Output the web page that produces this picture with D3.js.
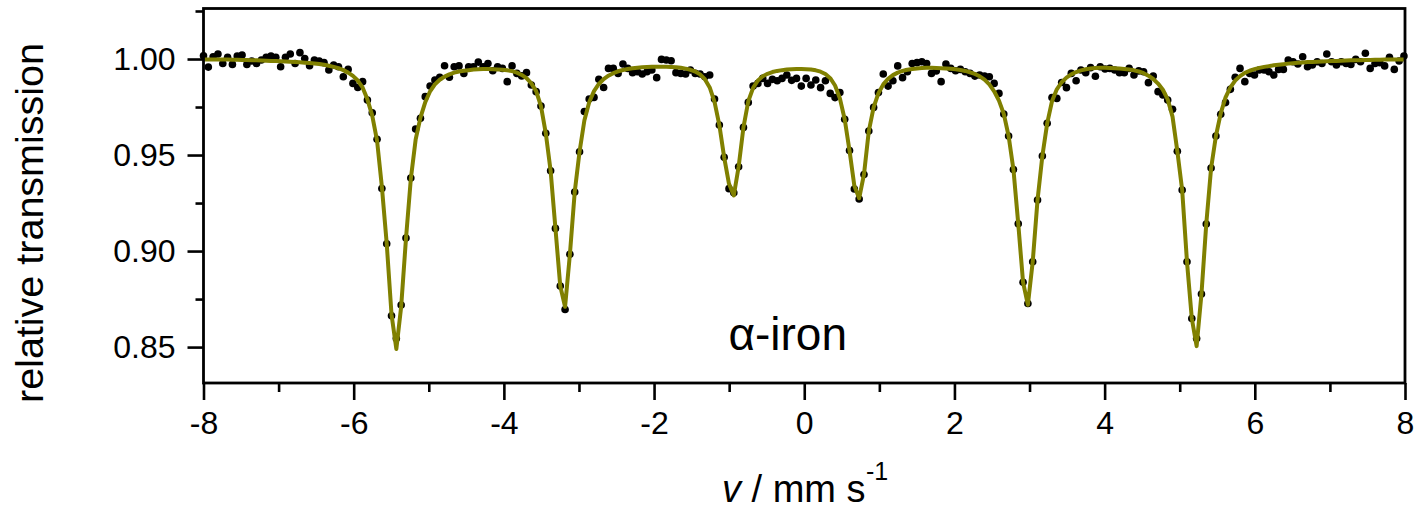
<!DOCTYPE html>
<html>
<head>
<meta charset="utf-8">
<script src="https://cdn.jsdelivr.net/npm/d3@7"></script>
<style>
  body { margin: 0; background: #fff; }
  svg { display: block; }
  text { font-family: Arial, "Liberation Sans", Helvetica, sans-serif; fill: #000; }
</style>
</head>
<body>
<svg id="chart" width="1421" height="511"></svg>
<script>
// velocity calibration of the 250 channels
var vStart = -8.0;
var vStep = 0.0642;

// measured relative transmission per channel
var counts = [
  1.0017, 0.9958, 1.0012, 1.0026, 0.9977, 1.0009, 0.9972, 1.0016, 1.0021, 0.9972,
  0.9990, 0.9977, 0.9995, 1.0009, 1.0016, 1.0009, 0.9960, 1.0009, 1.0026, 0.9977,
  1.0033, 1.0003, 0.9965, 0.9995, 0.9990, 0.9981, 0.9943, 0.9969, 0.9960, 0.9908,
  0.9946, 0.9873, 0.9852, 0.9882, 0.9786, 0.9720, 0.9582, 0.9326, 0.9038, 0.8663,
  0.8545, 0.8719, 0.9068, 0.9380, 0.9635, 0.9691, 0.9804, 0.9859, 0.9891, 0.9905,
  0.9965, 0.9905, 0.9960, 0.9964, 0.9925, 0.9960, 0.9960, 0.9984, 0.9960, 0.9977,
  0.9939, 0.9960, 0.9951, 0.9882, 0.9964, 0.9925, 0.9912, 0.9929, 0.9865, 0.9830,
  0.9755, 0.9613, 0.9418, 0.9118, 0.8818, 0.8696, 0.8983, 0.9307, 0.9517, 0.9727,
  0.9792, 0.9800, 0.9894, 0.9852, 0.9951, 0.9951, 0.9925, 0.9974, 0.9951, 0.9929,
  0.9934, 0.9922, 0.9934, 0.9943, 0.9903, 0.9998, 0.9995, 0.9991, 0.9929, 0.9925,
  0.9922, 0.9943, 0.9925, 0.9922, 0.9908, 0.9917, 0.9792, 0.9656, 0.9488, 0.9325,
  0.9304, 0.9439, 0.9644, 0.9774, 0.9859, 0.9873, 0.9899, 0.9873, 0.9894, 0.9887,
  0.9899, 0.9917, 0.9889, 0.9899, 0.9859, 0.9899, 0.9865, 0.9891, 0.9851, 0.9887,
  0.9821, 0.9799, 0.9825, 0.9686, 0.9523, 0.9323, 0.9271, 0.9399, 0.9625, 0.9748,
  0.9825, 0.9922, 0.9859, 0.9887, 0.9964, 0.9903, 0.9934, 0.9977, 0.9981, 0.9986,
  0.9977, 0.9925, 0.9938, 0.9882, 0.9974, 0.9951, 0.9939, 0.9946, 0.9934, 0.9925,
  0.9911, 0.9917, 0.9911, 0.9908, 0.9873, 0.9821, 0.9714, 0.9599, 0.9425, 0.9142,
  0.8837, 0.8727, 0.8944, 0.9266, 0.9495, 0.9665, 0.9799, 0.9795, 0.9878, 0.9851,
  0.9925, 0.9887, 0.9943, 0.9929, 0.9955, 0.9910, 0.9960, 0.9948, 0.9951, 0.9943,
  0.9929, 0.9929, 0.9951, 0.9917, 0.9938, 0.9934, 0.9877, 0.9911, 0.9830, 0.9813,
  0.9786, 0.9738, 0.9520, 0.9318, 0.8944, 0.8649, 0.8545, 0.8776, 0.9141, 0.9432,
  0.9599, 0.9712, 0.9773, 0.9842, 0.9905, 0.9951, 0.9882, 0.9925, 0.9917, 0.9943,
  0.9943, 0.9934, 0.9917, 0.9946, 0.9946, 0.9995, 0.9986, 0.9974, 1.0012, 0.9960,
  0.9969, 0.9986, 0.9977, 1.0026, 0.9986, 0.9969, 0.9986, 0.9977, 0.9972, 0.9998,
  0.9986, 1.0030, 0.9951, 0.9977, 0.9981, 0.9964, 1.0009, 0.9946, 0.9990, 1.0016
];

// fitted sextet, same channels
var fit = [
  0.9998, 0.9998, 0.9998, 0.9997, 0.9997, 0.9997, 0.9996, 0.9996, 0.9995, 0.9995,
  0.9994, 0.9993, 0.9992, 0.9991, 0.9990, 0.9989, 0.9988, 0.9987, 0.9986, 0.9985,
  0.9983, 0.9981, 0.9979, 0.9977, 0.9974, 0.9970, 0.9965, 0.9959, 0.9952, 0.9942,
  0.9929, 0.9912, 0.9888, 0.9852, 0.9790, 0.9705, 0.9575, 0.9335, 0.9040, 0.8670,
  0.8490, 0.8710, 0.9065, 0.9375, 0.9580, 0.9695, 0.9775, 0.9832, 0.9868, 0.9892,
  0.9908, 0.9920, 0.9929, 0.9935, 0.9939, 0.9942, 0.9945, 0.9947, 0.9948, 0.9948,
  0.9947, 0.9946, 0.9944, 0.9941, 0.9937, 0.9929, 0.9917, 0.9900, 0.9873, 0.9833,
  0.9755, 0.9613, 0.9418, 0.9118, 0.8818, 0.8710, 0.8983, 0.9307, 0.9517, 0.9680,
  0.9775, 0.9833, 0.9870, 0.9895, 0.9913, 0.9926, 0.9936, 0.9943, 0.9948, 0.9952,
  0.9955, 0.9957, 0.9959, 0.9960, 0.9960, 0.9960, 0.9960, 0.9959, 0.9957, 0.9954,
  0.9950, 0.9944, 0.9935, 0.9920, 0.9895, 0.9852, 0.9777, 0.9656, 0.9488, 0.9350,
  0.9290, 0.9439, 0.9644, 0.9780, 0.9850, 0.9888, 0.9910, 0.9923, 0.9932, 0.9938,
  0.9942, 0.9945, 0.9947, 0.9948, 0.9948, 0.9947, 0.9945, 0.9941, 0.9934, 0.9922,
  0.9900, 0.9862, 0.9795, 0.9686, 0.9523, 0.9340, 0.9275, 0.9399, 0.9625, 0.9748,
  0.9822, 0.9868, 0.9897, 0.9916, 0.9929, 0.9938, 0.9944, 0.9948, 0.9951, 0.9953,
  0.9954, 0.9954, 0.9953, 0.9952, 0.9951, 0.9949, 0.9947, 0.9943, 0.9938, 0.9931,
  0.9922, 0.9910, 0.9893, 0.9868, 0.9832, 0.9783, 0.9714, 0.9599, 0.9425, 0.9142,
  0.8837, 0.8720, 0.8944, 0.9266, 0.9495, 0.9665, 0.9780, 0.9842, 0.9879, 0.9903,
  0.9920, 0.9932, 0.9941, 0.9947, 0.9951, 0.9953, 0.9954, 0.9954, 0.9953, 0.9952,
  0.9950, 0.9948, 0.9945, 0.9941, 0.9935, 0.9926, 0.9913, 0.9896, 0.9872, 0.9840,
  0.9790, 0.9700, 0.9520, 0.9318, 0.8944, 0.8649, 0.8505, 0.8776, 0.9141, 0.9431,
  0.9599, 0.9717, 0.9800, 0.9852, 0.9888, 0.9911, 0.9928, 0.9939, 0.9947, 0.9954,
  0.9959, 0.9963, 0.9967, 0.9970, 0.9973, 0.9976, 0.9978, 0.9980, 0.9982, 0.9984,
  0.9985, 0.9986, 0.9987, 0.9988, 0.9989, 0.9990, 0.9991, 0.9992, 0.9993, 0.9993,
  0.9994, 0.9995, 0.9995, 0.9996, 0.9996, 0.9997, 0.9997, 0.9998, 0.9998, 0.9998
];

var xMajor = [-8, -6, -4, -2, 0, 2, 4, 6, 8];
var xMinor = [-7, -5, -3, -1, 1, 3, 5, 7];
var yMajor = [0.85, 0.90, 0.95, 1.00];
var yMinor = [0.875, 0.925, 0.975, 1.025];

var lineColor = "#808000";

var margin = { top: 8.5, right: 16, bottom: 128, left: 203.5 },
  width = 1421 - margin.left - margin.right,
  height = 511 - margin.top - margin.bottom;

var svg = d3.select("#chart");
var g = svg.append("g")
  .attr("transform", "translate(" + margin.left + "," + margin.top + ")");

var x = d3.scaleLinear().domain([-8, 8]).range([0, width]);
var y = d3.scaleLinear().domain([0.8313, 1.0263]).range([height, 0]);

var points = counts.map(function (d, i) {
  return { v: vStart + vStep * i, t: d, f: fit[i] };
});

// data
g.selectAll("circle.pt")
  .data(points)
  .enter()
  .append("circle")
  .attr("class", "pt")
  .attr("cx", function (d) { return x(d.v); })
  .attr("cy", function (d) { return y(d.t); })
  .attr("r", 3.8)
  .attr("fill", "#000");

// fit
var line = d3.line()
  .x(function (d) { return x(d.v); })
  .y(function (d) { return y(d.f); });

g.append("path")
  .datum(points)
  .attr("d", line)
  .attr("fill", "none")
  .attr("stroke", lineColor)
  .attr("stroke-width", 4)
  .attr("stroke-linejoin", "round");

// axes
function styleAxis(sel) {
  sel.select(".domain").remove();
  sel.selectAll(".tick line").attr("stroke", "#000").attr("stroke-width", 2.6);
  sel.selectAll(".tick text").style("font-size", "32px").attr("fill", "#000");
}

g.append("g")
  .attr("transform", "translate(0," + height + ")")
  .call(d3.axisBottom(x).tickValues(xMinor).tickSize(9).tickFormat(""))
  .call(styleAxis);

g.append("g")
  .attr("transform", "translate(0," + height + ")")
  .call(d3.axisBottom(x).tickValues(xMajor).tickSize(17).tickPadding(11)
    .tickFormat(function (d) { return String(d).replace("\u2212", "-"); }))
  .call(styleAxis);

g.append("g")
  .call(d3.axisLeft(y).tickValues(yMinor).tickSize(8).tickFormat(""))
  .call(styleAxis);

g.append("g")
  .call(d3.axisLeft(y).tickValues(yMajor).tickSize(16).tickPadding(12)
    .tickFormat(d3.format(".2f")))
  .call(styleAxis);

// frame
g.append("rect")
  .attr("x", 0)
  .attr("y", 0)
  .attr("width", width)
  .attr("height", height)
  .attr("fill", "none")
  .attr("stroke", "#000")
  .attr("stroke-width", 2.8);

// labels
g.append("text")
  .attr("x", x(-0.22))
  .attr("y", y(0.8486))
  .attr("text-anchor", "middle")
  .style("font-size", "46px")
  .text("\u03b1-iron");

var xt = svg.append("text")
  .attr("x", 722)
  .attr("y", 502)
  .style("font-size", "38px");
xt.append("tspan").style("font-style", "italic").text("v");
xt.append("tspan").text(" / mm s");

svg.append("text")
  .attr("x", 866)
  .attr("y", 480)
  .style("font-size", "25px")
  .text("-1");

svg.append("text")
  .attr("transform", "translate(43,223) rotate(-90)")
  .attr("text-anchor", "middle")
  .style("font-size", "38px")
  .attr("textLength", 360)
  .attr("lengthAdjust", "spacingAndGlyphs")
  .text("relative transmission");
</script>
</body>
</html>
